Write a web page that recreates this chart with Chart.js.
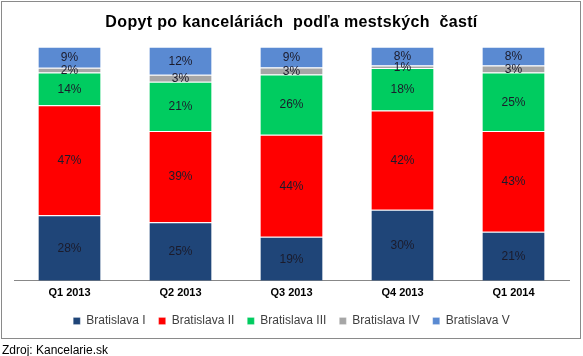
<!DOCTYPE html>
<html>
<head>
<meta charset="utf-8">
<script src="https://cdn.jsdelivr.net/npm/chart.js@4.4.1/dist/chart.umd.min.js"></script>
<style>
  html, body { margin: 0; padding: 0; background: #fff; }
  #wrap { position: relative; width: 583px; height: 356px; }
  canvas { display: block; }
  #src { position: absolute; left: 2px; top: 343px; font: 12px "Liberation Sans", Arial, sans-serif; color: #000; line-height: 14px; white-space: nowrap; }
</style>
</head>
<body>
<div id="wrap">
  <canvas id="c" width="583" height="356"></canvas>
  <div id="src">Zdroj: Kancelarie.sk</div>
</div>
<script>
const titleText = 'Dopyt po kanceláriách  podľa mestských  častí';
const categories = ['Q1 2013', 'Q2 2013', 'Q3 2013', 'Q4 2013', 'Q1 2014'];
const seriesNames = ['Bratislava I', 'Bratislava II', 'Bratislava III', 'Bratislava IV', 'Bratislava V'];
const bratislavaI = [28, 25, 19, 30, 21];
const bratislavaII = [47, 39, 44, 42, 43];
const bratislavaIII = [14, 21, 26, 18, 25];
const bratislavaIV = [2, 3, 3, 1, 3];
const bratislavaV = [9, 12, 9, 8, 8];
const seriesColors = ['#1F4578', '#FF0000', '#00CC60', '#A6A6A6', '#5A8AD2'];

const allSeries = [bratislavaI, bratislavaII, bratislavaIII, bratislavaIV, bratislavaV];
// each column is shown as a 100% stack (read percentages are rounded)
const totals = categories.map((_, i) => allSeries.reduce((s, arr) => s + arr[i], 0));

const datasets = allSeries.map((arr, k) => ({
  label: seriesNames[k],
  data: arr.map((v, i) => v / totals[i] * 100),
  raw: arr,
  backgroundColor: seriesColors[k],
  borderColor: 'rgba(255,255,255,0.85)',
  borderWidth: { top: 1, bottom: 0, left: 0, right: 0 },
  borderSkipped: false,
  barPercentage: 0.56,
  categoryPercentage: 1.0
}));

const framePlugin = {
  id: 'frame',
  afterInit(chart) {
    const tb = chart.titleBlock;
    if (tb && !tb._patched) {
      const orig = tb.draw;
      tb.draw = function () {
        const ctx = this.ctx || chart.ctx;
        ctx.save();
        try { ctx.letterSpacing = '0.35px'; } catch (e) {}
        orig.apply(this, arguments);
        ctx.restore();
      };
      tb._patched = true;
    }
  },
  beforeDraw(chart) {
    const ctx = chart.ctx;
    ctx.save();
    ctx.fillStyle = '#fff';
    ctx.fillRect(0, 0, chart.width, chart.height);
    ctx.strokeStyle = '#8a8a8a';
    ctx.lineWidth = 1;
    ctx.strokeRect(1.5, 1.5, 579, 337);
    ctx.restore();
  }
};

const labelPlugin = {
  id: 'segLabels',
  afterDatasetsDraw(chart) {
    const ctx = chart.ctx;
    ctx.save();
    ctx.font = '12px "Liberation Sans", Arial, sans-serif';
    ctx.fillStyle = '#1b1b2b';
    ctx.textAlign = 'center';
    ctx.textBaseline = 'middle';
    chart.data.datasets.forEach((ds, di) => {
      const meta = chart.getDatasetMeta(di);
      meta.data.forEach((el, i) => {
        const p = el.getProps(['x', 'y', 'base'], true);
        ctx.fillText(ds.raw[i] + '%', p.x, (p.y + p.base) / 2 + 0.5);
      });
    });
    ctx.restore();
  }
};

new Chart(document.getElementById('c'), {
  type: 'bar',
  data: { labels: categories, datasets },
  options: {
    responsive: false,
    animation: false,
    layout: { padding: { left: 14, right: 14, top: 0, bottom: 19 } },
    plugins: {
      title: {
        display: true,
        text: titleText,
        color: '#000',
        font: { family: '"Liberation Sans", Arial, sans-serif', size: 16, weight: 'bold' },
        padding: { top: 12.5, bottom: 15 }
      },
      legend: {
        position: 'bottom',
        labels: {
          boxWidth: 7,
          boxHeight: 7,
          padding: 13,
          color: '#404040',
          font: { family: '"Liberation Sans", Arial, sans-serif', size: 12 }
        }
      },
      tooltip: { enabled: false }
    },
    scales: {
      x: {
        stacked: true,
        grid: { display: false, drawTicks: false },
        border: { display: true, color: '#888', width: 1 },
        ticks: {
          color: '#000',
          padding: 6,
          font: { family: '"Liberation Sans", Arial, sans-serif', size: 11, weight: 'bold' }
        },
        afterFit(scale) { scale.height = scale.height - 4; }
      },
      y: {
        stacked: true,
        display: false,
        min: 0,
        max: 100
      }
    }
  },
  plugins: [framePlugin, labelPlugin]
});
</script>
</body>
</html>
